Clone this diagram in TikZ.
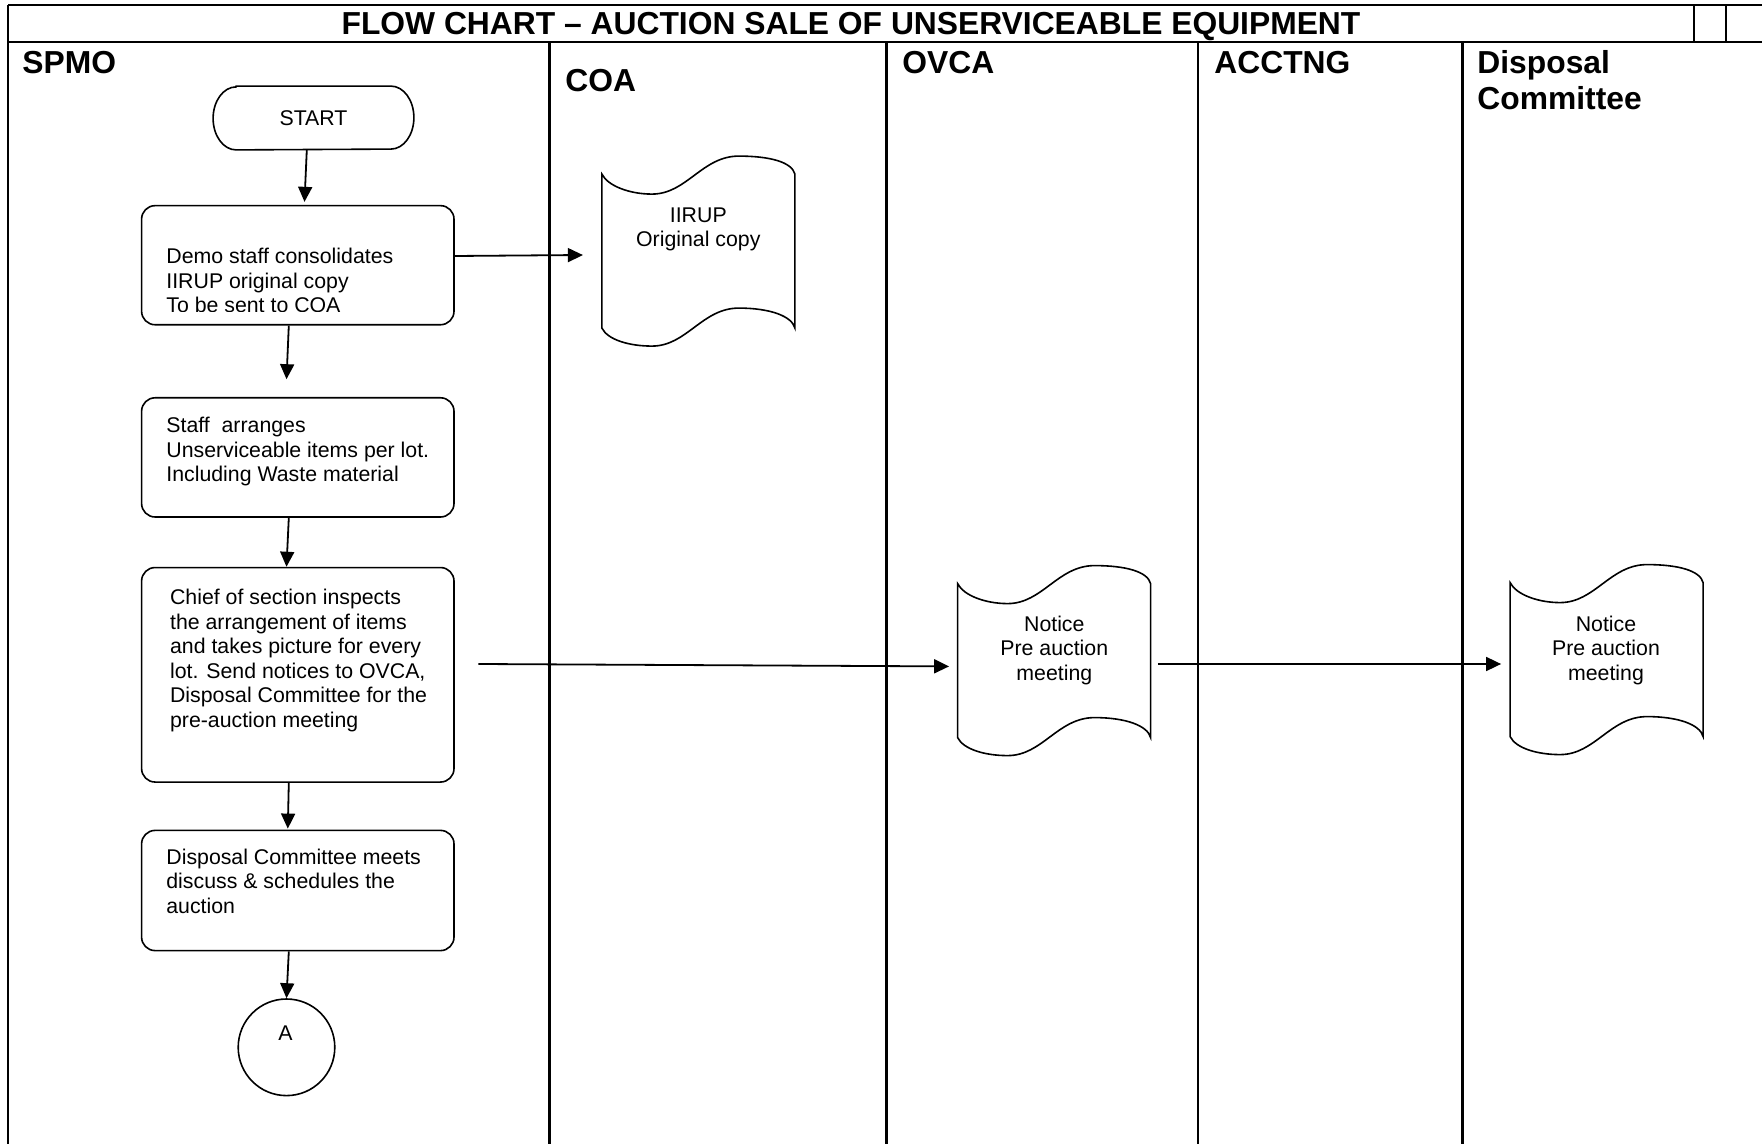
\documentclass[tikz,border=0pt]{standalone}
\usepackage{fontspec}
\setmainfont{Liberation Sans}
\usetikzlibrary{arrows.meta,calc}

% outline of a punched-tape document symbol, drawn over a named box node
\newcommand\tapeoutline[1]{%
  \draw[shape line, shift={(#1.north west)}]
    (0,18) .. controls (6,30) and (28,38) .. (50,38)
    .. controls (85,38) and (100,0) .. (137,0)
    .. controls (168,0) and (190,6) .. (193,18)
    -- (193,172)
    .. controls (190,160) and (168,152) .. (137,152)
    .. controls (100,152) and (85,190) .. (50,190)
    .. controls (28,190) and (6,184) .. (0,172) -- cycle;}

\begin{document}
\begin{tikzpicture}[x=0.5pt,y=-0.5pt,
  grid/.style={line width=1.3pt},
  shape line/.style={line width=0.8pt},
  stepbox/.style={draw, line width=0.8pt, rounded corners=6.75pt,
    minimum width=156.2pt, inner sep=0pt},
  tapebox/.style={minimum width=96.5pt, minimum height=95pt, inner sep=0pt},
  body/.style={font=\fontsize{10.65}{12.3}\selectfont, align=left,
    anchor=base west, inner sep=0pt},
  doctext/.style={font=\fontsize{10.65}{12.3}\selectfont, align=center,
    anchor=base, inner sep=0pt},
  lane/.style={font=\bfseries\fontsize{15.9}{18}\selectfont, align=left,
    anchor=base west, inner sep=0pt},
  flow/.style={line width=0.9pt, -{Triangle[length=7.5pt,width=7pt]}},
]
\useasboundingbox (0,0) rectangle (1762,1144);

% table frame and swim lanes
\draw[grid] (8,5) -- (1762,5);
\draw[grid] (8,42) -- (1762,42);
\draw[grid] (8,5) -- (8,1144);
\draw[grid] (1694,5) -- (1694,42);
\draw[grid] (1726,5) -- (1726,42);
\foreach \lx in {549.5,886.6,1197.9,1462.2}
  \draw[grid] (\lx,42) -- (\lx,1144);

\node[font=\bfseries\fontsize{15.9}{18}\selectfont, anchor=base, inner sep=0pt]
  (title) at (851,35) {FLOW CHART -- AUCTION SALE OF UNSERVICEABLE EQUIPMENT};

% lane headings (multi-line nodes sit on the baseline of their last line)
\node[lane] (spmo) at (22,73.4) {SPMO};
\node[lane] (coa) at (565,91.4) {COA};
\node[lane] (ovca) at (902,73.4) {OVCA};
\node[lane] (acctng) at (1214,73.4) {ACCTNG};
\node[lane] (dispc) at (1477,109.4) {Disposal\\Committee};

% terminal
\node[minimum width=100pt, minimum height=31.5pt, inner sep=0pt,
  font=\fontsize{10.65}{12.3}\selectfont] (start) at (313.5,118) {START};
\draw[shape line] ($(start.north west)+(23,0)$) -- ($(start.north east)+(-23,0)$)
  arc[start angle=-90, end angle=90, x radius=23, y radius=31.5]
  -- ($(start.south west)+(23,0)$)
  arc[start angle=90, end angle=270, x radius=23, y radius=31.5] -- cycle;

% process steps
\node[stepbox, minimum height=59.55pt] (box1) at (297.8,265.2) {};
\node[stepbox, minimum height=59.6pt] (box2) at (297.8,457.4) {};
\node[stepbox, minimum height=107.25pt] (box3) at (297.8,674.8) {};
\node[stepbox, minimum height=60.1pt] (box4) at (297.8,890.5) {};

\begin{scope}
  \clip (box1.north west) rectangle (454,311.8);
  \node[body] (box1text) at (166,312.9)
    {Demo staff consolidates\\IIRUP original copy\\To be sent to COA};
\end{scope}
\node[body] (box2text) at (166,481.7)
  {Staff\ \ arranges\\Unserviceable items per lot.\\Including Waste material};
\node[body] (box3text) at (169.7,727.4)
  {Chief of section inspects\\the arrangement of items\\and takes picture for every\\lot. Send notices to OVCA,\\Disposal Committee for the\\pre-auction meeting};
\node[body] (box4text) at (166,913.2)
  {Disposal Committee meets\\discuss \& schedules the\\auction};

% connector A
\node[circle, draw, line width=0.8pt, minimum size=48.3pt, inner sep=0pt]
  (conA) at (286.5,1047.3) {};
\node[font=\fontsize{10.65}{12.3}\selectfont, anchor=base, inner sep=0pt]
  (conAtext) at (285.4,1040.4) {A};

% documents
\node[tapebox] (iirup) at (698.8,251.5) {};
\tapeoutline{iirup}
\node[doctext] (iiruptext) at (698.3,246.9) {IIRUP\\Original copy};

\node[tapebox] (notice1) at (1054.5,661) {};
\tapeoutline{notice1}
\node[doctext] (notice1text) at (1054.3,680.5) {Notice\\Pre auction\\meeting};

\node[tapebox] (notice2) at (1607,660) {};
\tapeoutline{notice2}
\node[doctext] (notice2text) at (1606,680.5) {Notice\\Pre auction\\meeting};

% flow
\draw[flow] ($(start.south)+(-6.7,0)$) -- ($(box1.north)+(6.7,-3)$);
\draw[flow] ($(box1.south)+(-9,0)$) -- ($(box2.north)+(-11.3,-17.8)$);
\draw[flow] ($(box2.south)+(-9,0)$) -- ($(box3.north)+(-11.3,0)$);
\draw[flow] ($(box3.south)+(-9,0)$) -- ($(box4.north)+(-10,-1)$);
\draw[flow] ($(box4.south)+(-9,0)$) -- (conA.north);
\draw[flow] ($(box1.east)+(0,-9.2)$) -- ($(iirup.west)+(-19,3.5)$);
\draw[flow] ($(box3.east)+(23.6,-10.8)$) -- ($(notice1.west)+(-8.5,5.4)$);
\draw[flow] ($(notice1.east)+(6.4,3)$) -- ($(notice2.west)+(-9,4)$);
\end{tikzpicture}
\end{document}
